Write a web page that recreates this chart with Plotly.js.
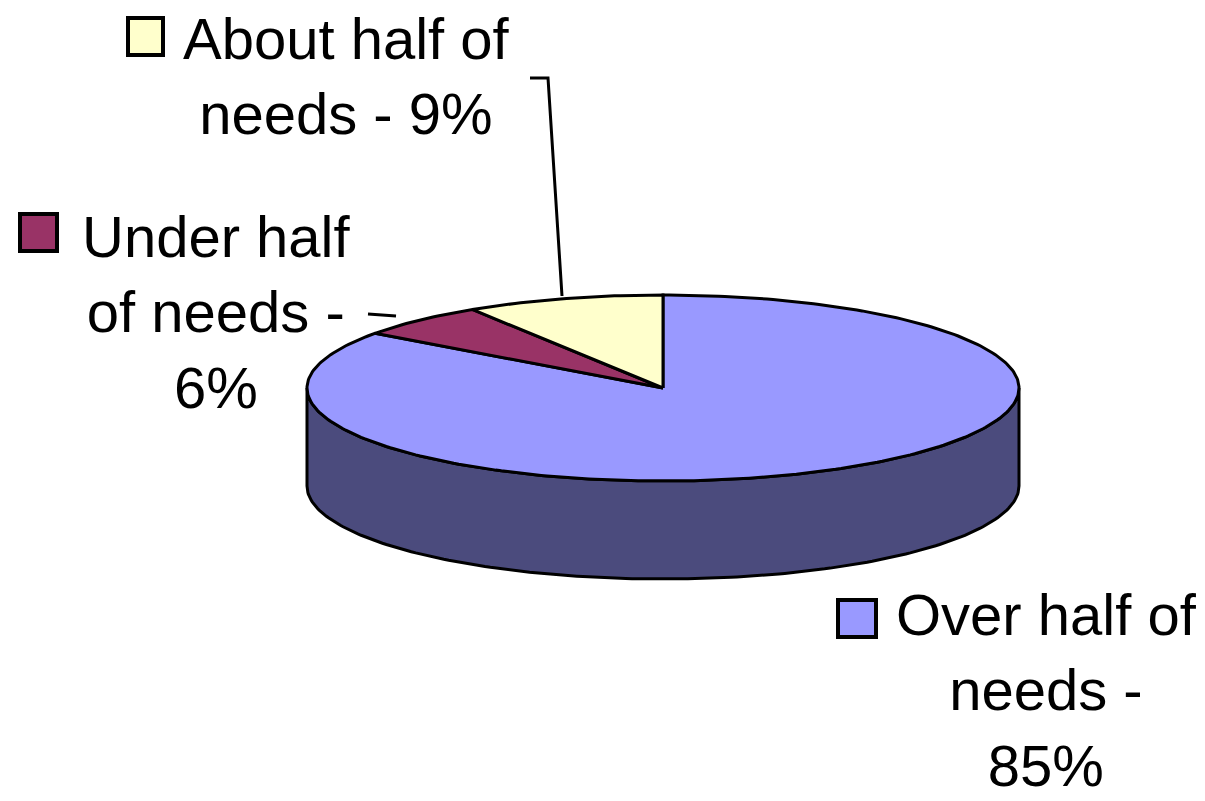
<!DOCTYPE html>
<html>
<head>
<meta charset="utf-8">
<script src="https://cdn.plot.ly/plotly-3.0.1.min.js"></script>
<style>html,body{margin:0;padding:0;background:#fff;}#chart{width:1205px;height:801px;}</style>
</head>
<body>
<div id="chart"></div>
<script>
// ---- data ----
const categories = ['Over half of needs', 'Under half of needs', 'About half of needs'];
const values = [85, 6, 9];
const labelNames = ['Over half of<br>needs', 'Under half<br>of needs', 'About half of<br>needs'];
const labelSeps = [' -<br>', ' -<br>', ' - '];

// ---- style ----
const topColors = ['#9999FF', '#993366', '#FFFFCC'];
const sideColors = ['#4B4B7D', '#4D1A33', '#80806A'];
const geo = {cx: 663, cy: 388, rx: 356, ry: 93, depth: 98};
const labelPos = [
  {x: 1046, y: 690, key: [838, 600, 876, 637]},
  {x: 216, y: 312, key: [20, 214, 57, 251]},
  {x: 346, y: 76, key: [128, 18, 163, 55]}
];
const leaders = [
  null,
  [[368, 314], [396, 316]],
  [[530, 78], [548, 78], [562, 296]]
];

function pt(deg, dy) {
  const r = deg * Math.PI / 180;
  return [geo.cx + geo.rx * Math.cos(r), geo.cy - geo.ry * Math.sin(r) + dy];
}
function arc(from, to, dy) {
  const pts = [];
  const n = Math.max(2, Math.ceil(Math.abs(to - from)));
  for (let i = 0; i <= n; i++) pts.push(pt(from + (to - from) * i / n, dy));
  return pts;
}

const total = values.reduce((a, b) => a + b, 0);
const sideTraces = [], topTraces = [];
let cum = 0;
values.forEach((v, i) => {
  const a0 = 90 - 360 * cum / total;
  const a1 = 90 - 360 * (cum + v) / total;
  cum += v;
  // top face
  const top = [[geo.cx, geo.cy]].concat(arc(a0, a1, 0)).concat([[geo.cx, geo.cy]]);
  topTraces.push({
    type: 'scatter', mode: 'lines', fill: 'toself', name: categories[i],
    x: top.map(p => p[0]), y: top.map(p => p[1]),
    fillcolor: topColors[i], line: {color: '#000', width: 3}, hoverinfo: 'name', showlegend: false
  });
  // side face (front half only)
  [[-180, 0], [-540, -360]].forEach(([fs, fe]) => {
    const s = Math.max(a1, fs), e = Math.min(a0, fe);
    if (s < e) {
      const side = arc(e, s, 0).concat(arc(s, e, geo.depth));
      side.push(side[0]);
      sideTraces.push({
        type: 'scatter', mode: 'lines', fill: 'toself', name: categories[i],
        x: side.map(p => p[0]), y: side.map(p => p[1]),
        fillcolor: sideColors[i], line: {color: '#000', width: 3}, hoverinfo: 'skip', showlegend: false
      });
    }
  });
});

const annotations = values.map((v, i) => ({
  x: labelPos[i].x, y: labelPos[i].y, xref: 'x', yref: 'y',
  xanchor: 'center', yanchor: 'middle', align: 'center', showarrow: false,
  text: labelNames[i] + labelSeps[i] + v + '%',
  font: {family: '"Liberation Sans", Arial, sans-serif', size: 58, color: '#000'}
}));

const shapes = [];
labelPos.forEach((lp, i) => {
  shapes.push({type: 'rect', xref: 'x', yref: 'y', x0: lp.key[0], y0: lp.key[1], x1: lp.key[2], y1: lp.key[3],
    fillcolor: topColors[i], line: {color: '#000', width: 4}});
});
leaders.forEach(ld => {
  if (!ld) return;
  let path = 'M' + ld.map(p => p[0] + ',' + p[1]).join(' L');
  shapes.push({type: 'path', xref: 'x', yref: 'y', path: path, line: {color: '#000', width: 3}});
});

const layout = {
  width: 1205, height: 801,
  margin: {l: 0, r: 0, t: 0, b: 0},
  paper_bgcolor: '#fff', plot_bgcolor: '#fff',
  xaxis: {range: [0, 1205], visible: false, fixedrange: true},
  yaxis: {range: [801, 0], visible: false, fixedrange: true},
  showlegend: false,
  annotations: annotations,
  shapes: shapes
};

Plotly.newPlot('chart', sideTraces.concat(topTraces), layout, {displayModeBar: false, staticPlot: true});
</script>
</body>
</html>
